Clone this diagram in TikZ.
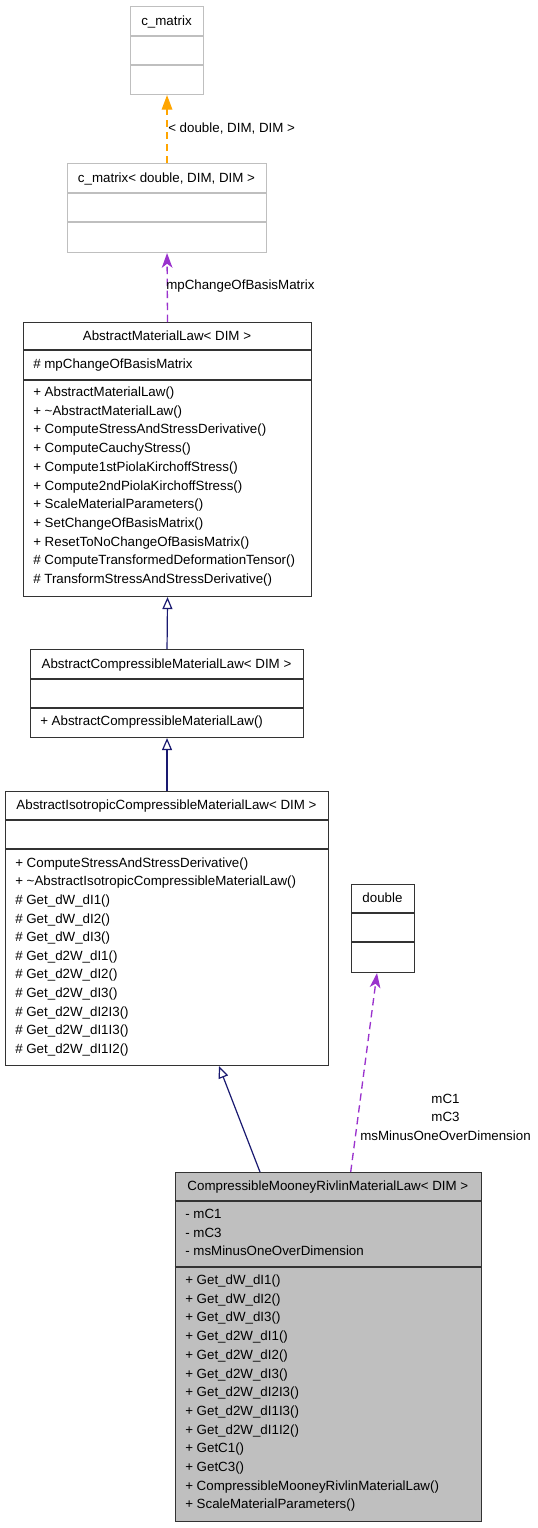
\documentclass[tikz,border=0pt]{standalone}
\usepackage{fontspec}
\setmainfont{Liberation Sans}
\usetikzlibrary{arrows.meta,calc}
\definecolor{boxfill}{HTML}{BFBFBF}
\definecolor{lightline}{HTML}{BFBFBF}
\definecolor{darkline}{HTML}{333333}
\definecolor{edgeorange}{HTML}{FFA500}
\definecolor{edgepurple}{HTML}{9A32CD}
\definecolor{edgenavy}{HTML}{191970}
\tikzset{
  txt/.style={inner sep=0pt, font=\fontsize{10}{12}\selectfont, text=black},
  umlbox/.style={draw=darkline, line width=0.8pt, inner sep=0pt, anchor=north west, rectangle},
  lightbox/.style={umlbox, draw=lightline},
  sepline/.style={darkline, line width=0.8pt},
  lightsep/.style={lightline, line width=0.8pt},
  usedge/.style={dash pattern=on 5.5pt off 3.5pt, line width=1pt},
  orangeedge/.style={usedge, draw=edgeorange, -{Triangle[length=11pt,width=8pt,fill=edgeorange]}},
  purpleedge/.style={usedge, draw=edgepurple, -{Stealth[length=11pt,width=8pt,inset=3pt,fill=edgepurple]}},
  inherit/.style={draw=edgenavy, line width=0.9pt, -{Triangle[open,length=9pt,width=7.5pt,fill=white]}}
}
% box: name, left, top, right, bottom
\newcommand\mybox[6][umlbox]{%
  \node[#1, minimum width={(#5-#3)*0.75pt}, minimum height={(#6-#4)*0.75pt}] (#2) at (#3,#4) {};}
\newcommand\myhead[4]{\node[txt, anchor=base] (#1) at (#2,#3+4.5) {#4};}
\newcommand\myrow[4]{\node[txt, anchor=base west] (#1) at (#2,#3+4.5) {#4};}
\begin{document}
\begin{tikzpicture}[x=0.75pt, y=-0.75pt]
\useasboundingbox (0,0) rectangle (537,1528);

% c_matrix
\mybox[lightbox]{cm}{130}{6}{203}{94}
\draw[lightsep] (130,36) -- (203,36);
\draw[lightsep] (130,65) -- (203,65);
\myhead{cm-h}{166.5}{21}{c\_matrix}

% c_matrix< double, DIM, DIM >
\mybox[lightbox]{cmd}{67}{163}{266}{252}
\draw[lightsep] (67,193) -- (266,193);
\draw[lightsep] (67,222) -- (266,222);
\myhead{cmd-h}{166.5}{178}{c\_matrix< double, DIM, DIM >}

% AbstractMaterialLaw
\mybox{aml}{23}{322}{311}{596}
\draw[sepline] (23,350) -- (311,350);
\draw[sepline] (23,380) -- (311,380);
\myhead{aml-h}{167}{336}{AbstractMaterialLaw< DIM >}
\myrow{aml-a0}{33}{364}{\# mpChangeOfBasisMatrix}
\foreach \t [count=\i from 0] in {%
  + AbstractMaterialLaw(),
  + \textasciitilde AbstractMaterialLaw(),
  + ComputeStressAndStressDerivative(),
  + ComputeCauchyStress(),
  + Compute1stPiolaKirchoffStress(),
  + Compute2ndPiolaKirchoffStress(),
  + ScaleMaterialParameters(),
  + SetChangeOfBasisMatrix(),
  + ResetToNoChangeOfBasisMatrix(),
  \# ComputeTransformedDeformationTensor(),
  \# TransformStressAndStressDerivative()}
  {\myrow{aml-m\i}{33}{392+18.7*\i}{\t}}

% AbstractCompressibleMaterialLaw
\mybox{acml}{30}{649}{303}{737}
\draw[sepline] (30,679) -- (303,679);
\draw[sepline] (30,708) -- (303,708);
\myhead{acml-h}{166.5}{664}{AbstractCompressibleMaterialLaw< DIM >}
\myrow{acml-m0}{40}{721}{+ AbstractCompressibleMaterialLaw()}

% AbstractIsotropicCompressibleMaterialLaw
\mybox{aicml}{5}{791}{328}{1065}
\draw[sepline] (5,820) -- (328,820);
\draw[sepline] (5,849) -- (328,849);
\myhead{aicml-h}{166.5}{805}{AbstractIsotropicCompressibleMaterialLaw< DIM >}
\foreach \t [count=\i from 0] in {%
  + ComputeStressAndStressDerivative(),
  + \textasciitilde AbstractIsotropicCompressibleMaterialLaw(),
  \# Get\_dW\_dI1(),
  \# Get\_dW\_dI2(),
  \# Get\_dW\_dI3(),
  \# Get\_d2W\_dI1(),
  \# Get\_d2W\_dI2(),
  \# Get\_d2W\_dI3(),
  \# Get\_d2W\_dI2I3(),
  \# Get\_d2W\_dI1I3(),
  \# Get\_d2W\_dI1I2()}
  {\myrow{aicml-m\i}{15}{862.7+18.6*\i}{\t}}

% double
\mybox{dbl}{351}{884}{414}{972}
\draw[sepline] (351,913) -- (414,913);
\draw[sepline] (351,942) -- (414,942);
\myhead{dbl-h}{382.5}{898}{double}

% CompressibleMooneyRivlinMaterialLaw
\mybox[umlbox, fill=boxfill]{cmr}{174.7}{1172}{481}{1521}
\draw[sepline] (174.7,1201) -- (481,1201);
\draw[sepline] (174.7,1267) -- (481,1267);
\myhead{cmr-h}{327.9}{1186}{CompressibleMooneyRivlinMaterialLaw< DIM >}
\myrow{cmr-a0}{185}{1214}{- mC1}
\myrow{cmr-a1}{185}{1233}{- mC3}
\myrow{cmr-a2}{185}{1251}{- msMinusOneOverDimension}
\foreach \t [count=\i from 0] in {%
  + Get\_dW\_dI1(),
  + Get\_dW\_dI2(),
  + Get\_dW\_dI3(),
  + Get\_d2W\_dI1(),
  + Get\_d2W\_dI2(),
  + Get\_d2W\_dI3(),
  + Get\_d2W\_dI2I3(),
  + Get\_d2W\_dI1I3(),
  + Get\_d2W\_dI1I2(),
  + GetC1(),
  + GetC3(),
  + CompressibleMooneyRivlinMaterialLaw(),
  + ScaleMaterialParameters()}
  {\myrow{cmr-m\i}{185}{1280+18.7*\i}{\t}}

% connectors
\draw[orangeedge] (cmd.north) -- (cm.south);
\myrow{lbl-cm}{168}{128}{< double, DIM, DIM >}
\draw[purpleedge] (aml.north) -- (cmd.south);
\myrow{lbl-cmd}{166}{285}{mpChangeOfBasisMatrix}
\draw[inherit] (acml.north) -- (aml.south);
\draw[inherit] (aicml.north) -- (acml.south);
\draw[inherit] ($(cmr.north west)+(85.3,0)$) -- ($(aicml.south west)+(214,0)$);
\draw[purpleedge] ($(cmr.north west)+(176,0)$) -- ($(dbl.south west)+(26,0)$);
\myhead{lbl-d0}{445.5}{1099}{mC1}
\myhead{lbl-d1}{445.5}{1117}{mC3}
\myhead{lbl-d2}{445.5}{1136}{msMinusOneOverDimension}
\end{tikzpicture}
\end{document}
